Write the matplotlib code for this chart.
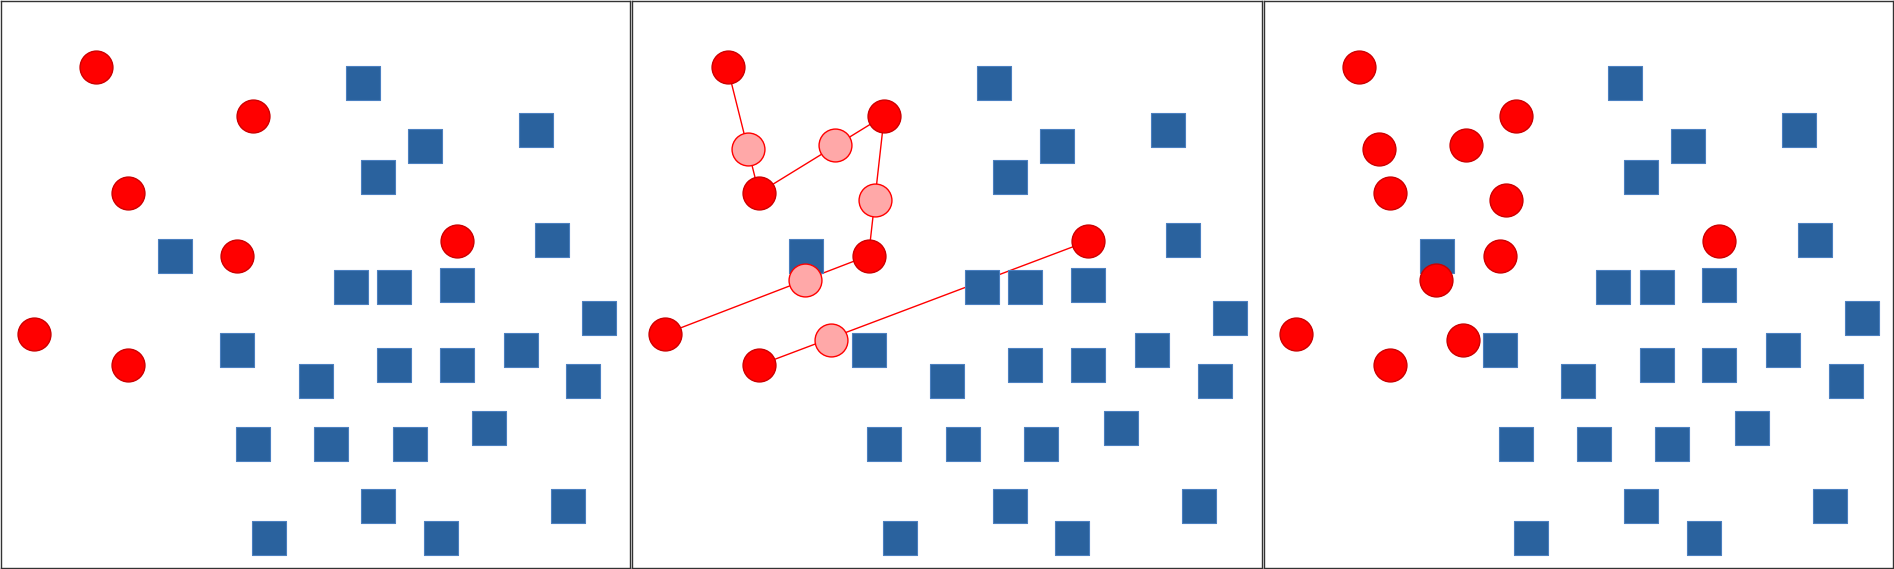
import numpy as np
import matplotlib
matplotlib.use("Agg")
import matplotlib.pyplot as plt

# minority (red) samples, pixel-like coords within a panel
red_x = [79, 209, 105, 196, 378, 27, 105]
red_y = [55, 95, 159, 211, 199, 276, 302]

# majority (blue) samples
blue_x = [300, 352, 444, 313, 144, 457, 290, 326, 378, 496, 196, 261, 326, 378,
          431, 483, 405, 209, 274, 339, 313, 470, 222, 365]
blue_y = [68, 120, 107, 146, 211, 198, 237, 237, 235, 263, 289, 315, 302, 302,
          289, 315, 354, 367, 367, 367, 419, 419, 445, 445]

# synthetic samples and the pair (indices into red) each one was made from
syn_x = [96, 168, 201, 143, 165]
syn_y = [123, 119, 165, 231, 281]
syn_pairs = [(0, 2), (2, 1), (1, 3), (5, 3), (6, 4)]

W, H = 522, 470
fig = plt.figure(figsize=(18.94, 5.69), dpi=100)
blue = "#2a629e"
red = "#ff0000"
sq = 620
circ = 560

for i in range(3):
    ax = fig.add_axes([i / 3 + 0.0005, 0.002, 1 / 3 - 0.001, 0.996])
    ax.set_xlim(0, W)
    ax.set_ylim(H, 0)
    ax.set_xticks([])
    ax.set_yticks([])
    for s in ax.spines.values():
        s.set_linewidth(1.0)
        s.set_color("#333333")
    ax.scatter(blue_x, blue_y, s=sq, marker="s", color=blue, edgecolors="#4a7fc0",
               linewidths=0.8, zorder=2)
    if i == 1:
        for a, b in syn_pairs:
            ax.plot([red_x[a], red_x[b]], [red_y[a], red_y[b]], color=red, lw=1, zorder=1)
        ax.scatter(syn_x, syn_y, s=circ, color="#ffa8a8", edgecolors=red, linewidths=1,
                   zorder=3)
    ax.scatter(red_x, red_y, s=circ, color=red, edgecolors="#cc0000", linewidths=1,
               zorder=4)
    if i == 2:
        ax.scatter(syn_x, syn_y, s=circ, color=red, edgecolors="#cc0000", linewidths=1,
                   zorder=4)

fig.savefig("out.png")
